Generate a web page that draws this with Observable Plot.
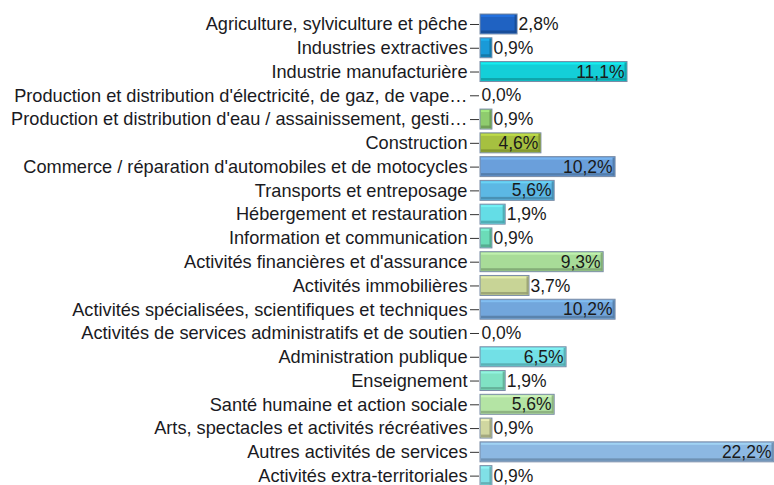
<!DOCTYPE html>
<html>
<head>
<meta charset="utf-8">
<script src="https://cdn.jsdelivr.net/npm/d3@7"></script>
<script src="https://cdn.jsdelivr.net/npm/@observablehq/plot@0.6"></script>
<style>
  html, body { margin: 0; padding: 0; background: #fff; }
  #chart { width: 774px; height: 485px; overflow: hidden; }
  svg { font-family: "Liberation Sans", Arial, sans-serif; }
</style>
</head>
<body>
<div id="chart"></div>
<script>
const categories = [
  "Agriculture, sylviculture et pêche",
  "Industries extractives",
  "Industrie manufacturière",
  "Production et distribution d'électricité, de gaz, de vape…",
  "Production et distribution d'eau / assainissement, gesti…",
  "Construction",
  "Commerce / réparation d'automobiles et de motocycles",
  "Transports et entreposage",
  "Hébergement et restauration",
  "Information et communication",
  "Activités financières et d'assurance",
  "Activités immobilières",
  "Activités spécialisées, scientifiques et techniques",
  "Activités de services administratifs et de soutien",
  "Administration publique",
  "Enseignement",
  "Santé humaine et action sociale",
  "Arts, spectacles et activités récréatives",
  "Autres activités de services",
  "Activités extra-territoriales"
];
const values = [2.8, 0.9, 11.1, 0.0, 0.9, 4.6, 10.2, 5.6, 1.9, 0.9, 9.3, 3.7, 10.2, 0.0, 6.5, 1.9, 5.6, 0.9, 22.2, 0.9];

const barColors = [
  "#1f62c2", "#1a9ad8", "#14cfd8", "#cccccc", "#8fcc6e", "#a6c040",
  "#6a9fdb", "#5cb8e4", "#64dde6", "#6cdcb8", "#a8dc98", "#c8d496",
  "#72a6dc", "#cccccc", "#72e0e6", "#80e2c4", "#b4e4a4", "#d0d6a0",
  "#8cb8e2", "#80e0e6"
];

const data = categories.map((c, i) => ({
  cat: c,
  v: values[i],
  color: barColors[i],
  dark: d3.color(barColors[i]).darker(0.8).formatHex(),
  light: d3.color(barColors[i]).brighter(0.6).formatHex(),
  label: values[i].toFixed(1).replace(".", ",") + "%",
  inside: values[i] >= 4
}));
const bars = data.filter(d => d.v > 0);

const chart = Plot.plot({
  width: 774,
  height: 485,
  marginLeft: 480,
  marginRight: 0,
  marginTop: 10,
  marginBottom: 0,
  style: {fontFamily: "'Liberation Sans', Arial, sans-serif", background: "#fff"},
  x: {domain: [0, 22.2], range: [480, 774], axis: null},
  y: {domain: categories, range: [10.2, 489.4], padding: 0.16, round: false, label: null},
  marks: [
    Plot.ruleX([0], {y1: -10, y2: 600, stroke: "#d4d4d4", strokeWidth: 1, dx: -0.5, clip: false}),
    Plot.barX(bars, {x: "v", y: "cat", fill: "color", stroke: "#7a8ca6", strokeWidth: 1}),
    Plot.barX(bars, {x: "v", y: "cat", fill: "light", insetBottom: 17, insetTop: 1, insetLeft: 1, insetRight: 1, fillOpacity: 0.6}),
    Plot.barX(bars, {x: "v", y: "cat", fill: "dark", insetTop: 16.5, insetBottom: 1, insetLeft: 1, insetRight: 1, fillOpacity: 0.85}),
    Plot.tickX(bars, {x: "v", y: "cat", stroke: "dark", strokeWidth: 2, dx: -2, insetTop: 1, insetBottom: 1, strokeOpacity: 0.85}),
    Plot.axisY({tickSize: 9, tickPadding: 3, fontSize: 18.2, stroke: "#333", color: "#1a1a22", label: null, dx: -1}),
    Plot.text(data.filter(d => d.inside), {x: "v", y: "cat", text: "label", textAnchor: "end", dx: -3, fontSize: 17.5, fill: "#1a1a1a"}),
    Plot.text(data.filter(d => !d.inside), {x: "v", y: "cat", text: "label", textAnchor: "start", dx: 1, fontSize: 17.5, fill: "#1a1a1a"})
  ]
});
document.getElementById("chart").appendChild(chart);
</script>
</body>
</html>
